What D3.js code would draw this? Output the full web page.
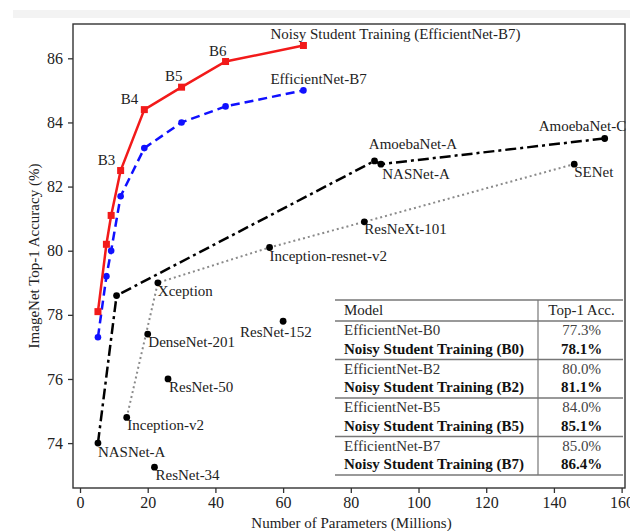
<!DOCTYPE html>
<html>
<head>
<meta charset="utf-8">
<script src="https://cdn.jsdelivr.net/npm/d3@7"></script>
<style>
  html, body { margin: 0; padding: 0; background: #fff; }
  svg { display: block; }
  text { font-family: "Liberation Serif", "Times New Roman", serif; }
</style>
</head>
<body>
<svg id="chart" width="630" height="531"></svg>
<script>
// EfficientNet family (B0..B7): parameters in millions and ImageNet top-1 accuracy
const effNames = ["B0", "B1", "B2", "B3", "B4", "B5", "B6", "B7"];
const effParams = [5.3, 7.8, 9.2, 12, 19, 30, 43, 66];
const noisyAcc = [78.1, 80.2, 81.1, 82.5, 84.4, 85.1, 85.9, 86.4];
const effAcc = [77.3, 79.2, 80.0, 81.7, 83.2, 84.0, 84.5, 85.0];

// NAS-based models (dash-dot frontier)
const nasNames = ["NASNet-A", "", "AmoebaNet-A", "NASNet-A", "AmoebaNet-C"];
const nasParams = [5.3, 10.8, 87, 88.9, 155];
const nasAcc = [74.0, 78.6, 82.8, 82.7, 83.5];

// Hand-designed models (dotted frontier)
const handNames = ["Inception-v2", "Xception", "Inception-resnet-v2", "ResNeXt-101", "SENet"];
const handParams = [13.8, 23, 56, 84, 146];
const handAcc = [74.8, 79.0, 80.1, 80.9, 82.7];

// Standalone models
const soloNames = ["DenseNet-201", "ResNet-50", "ResNet-152", "ResNet-34"];
const soloParams = [20, 26, 60, 22];
const soloAcc = [77.4, 76.0, 77.8, 73.25];

// Axis ticks
const xTicks = [0, 20, 40, 60, 80, 100, 120, 140, 160];
const yTicks = [74, 76, 78, 80, 82, 84, 86];

// Inset table: which EfficientNet sizes are compared
const tableSizes = ["B0", "B2", "B5", "B7"];

// Label placement (pixel offsets from each point)
const labelOffsets = {
  "Noisy Student Training (EfficientNet-B7)": [-33, -6],
  "EfficientNet-B7": [-33, -6],
  "B3": [-23, -6], "B4": [-23.5, -6], "B5": [-16.5, -6], "B6": [-16.5, -6],
  "NASNet-A small": [0, 13.4],
  "AmoebaNet-A": [-5.7, -12],
  "NASNet-A large": [1.3, 14.4],
  "AmoebaNet-C": [-66, -7],
  "Inception-v2": [0.6, 12.5],
  "Xception": [0, 13.3],
  "Inception-resnet-v2": [0, 13.4],
  "ResNeXt-101": [0, 12.6],
  "SENet": [0, 13],
  "DenseNet-201": [0.6, 12.7],
  "ResNet-50": [1, 13.3],
  "ResNet-152": [-43, 15.6],
  "ResNet-34": [1, 12.7]
};

const W = 630, H = 531;
const plot = { left: 73, top: 24, right: 625, bottom: 488 };

const svg = d3.select("#chart");

// light band along the top of the page
svg.append("rect").attr("x", 13).attr("y", 10).attr("width", W - 13).attr("height", 8)
  .attr("fill", "#f3f3f3");

const x = d3.scaleLinear().domain([-2.07, 161]).range([plot.left, plot.right]);
const y = d3.scaleLinear().domain([72.6, 87.07]).range([plot.bottom, plot.top]);

const textColor = "#222";

// Axes
const xAxis = svg.append("g")
  .attr("transform", `translate(0,${plot.bottom})`)
  .call(d3.axisBottom(x).tickValues(xTicks).tickSize(5).tickPadding(4).tickFormat(d3.format("d")));
const yAxis = svg.append("g")
  .attr("transform", `translate(${plot.left},0)`)
  .call(d3.axisLeft(y).tickValues(yTicks).tickSize(5).tickPadding(5).tickFormat(d3.format("d")));
[xAxis, yAxis].forEach(g => {
  g.select(".domain").remove();
  g.selectAll(".tick line").attr("stroke", "#333").attr("stroke-width", 1.3);
  g.selectAll(".tick text").attr("fill", textColor).style("font-size", "16px")
    .style("font-family", "'Liberation Serif', serif");
});

// Frame
svg.append("rect")
  .attr("x", plot.left).attr("y", plot.top)
  .attr("width", plot.right - plot.left).attr("height", plot.bottom - plot.top)
  .attr("fill", "none").attr("stroke", "#333").attr("stroke-width", 1.4);

// Axis titles
svg.append("text")
  .attr("x", 351.5).attr("y", 528).attr("text-anchor", "middle")
  .attr("fill", textColor).style("font-size", "15px")
  .text("Number of Parameters (Millions)");
svg.append("text")
  .attr("transform", `translate(39,${(plot.top + plot.bottom) / 2}) rotate(-90)`)
  .attr("text-anchor", "middle")
  .attr("fill", textColor).style("font-size", "15px")
  .text("ImageNet Top-1 Accuracy (%)");

const line = d3.line().x(d => x(d[0])).y(d => y(d[1]));
const zipPts = (xs, ys) => xs.map((v, i) => [v, ys[i]]);

const handPts = zipPts(handParams, handAcc);
const nasPts = zipPts(nasParams, nasAcc);
const effPts = zipPts(effParams, effAcc);
const noisyPts = zipPts(effParams, noisyAcc);

// Dotted frontier of hand-designed networks
svg.append("path").datum(handPts).attr("d", line)
  .attr("fill", "none").attr("stroke", "#8a8a8a").attr("stroke-width", 2)
  .attr("stroke-dasharray", "2,3");

// Dash-dot frontier of NAS networks
svg.append("path").datum(nasPts).attr("d", line)
  .attr("fill", "none").attr("stroke", "#000").attr("stroke-width", 2.5)
  .attr("stroke-dasharray", "11,4,3,4");

// EfficientNet (dashed blue)
svg.append("path").datum(effPts).attr("d", line)
  .attr("fill", "none").attr("stroke", "#1010ff").attr("stroke-width", 2.5)
  .attr("stroke-dasharray", "9,5");
svg.selectAll(".effpt").data(effPts).enter().append("circle")
  .attr("cx", d => x(d[0])).attr("cy", d => y(d[1])).attr("r", 3.3)
  .attr("fill", "#1010ff");

// Noisy Student Training (solid red)
svg.append("path").datum(noisyPts).attr("d", line)
  .attr("fill", "none").attr("stroke", "#f21a1a").attr("stroke-width", 2.5);
svg.selectAll(".noisypt").data(noisyPts).enter().append("rect")
  .attr("x", d => x(d[0]) - 3.5).attr("y", d => y(d[1]) - 3.5)
  .attr("width", 7).attr("height", 7).attr("fill", "#f21a1a");

// Black model markers
const blackPts = nasPts.concat(handPts, zipPts(soloParams, soloAcc));
svg.selectAll(".modelpt").data(blackPts).enter().append("circle")
  .attr("cx", d => x(d[0])).attr("cy", d => y(d[1])).attr("r", 3.4)
  .attr("fill", "#000");

// Labels
function label(text, px, py, key) {
  const off = labelOffsets[key || text] || [0, 13];
  svg.append("text")
    .attr("x", x(px) + off[0]).attr("y", y(py) + off[1])
    .attr("fill", textColor).style("font-size", "15px")
    .text(text);
}
const last = effParams.length - 1;
label("Noisy Student Training (EfficientNet-B7)", effParams[last], noisyAcc[last]);
label("EfficientNet-B7", effParams[last], effAcc[last]);
["B3", "B4", "B5", "B6"].forEach(n => {
  const i = effNames.indexOf(n);
  label(n, effParams[i], noisyAcc[i]);
});
nasNames.forEach((n, i) => {
  if (!n) return;
  let key = n;
  if (n === "NASNet-A") key = i === 0 ? "NASNet-A small" : "NASNet-A large";
  label(n, nasParams[i], nasAcc[i], key);
});
handNames.forEach((n, i) => label(n, handParams[i], handAcc[i]));
soloNames.forEach((n, i) => label(n, soloParams[i], soloAcc[i]));

// Inset comparison table
const tbl = { left: 335, right: 623, div: 538, top: 300, head: 321, group: 38.5 };
const fmt = d => d3.format(".1f")(d) + "%";
const rows = [];
tableSizes.forEach(s => {
  const i = effNames.indexOf(s);
  rows.push({ model: "EfficientNet-" + s, acc: effAcc[i], bold: false });
  rows.push({ model: "Noisy Student Training (" + s + ")", acc: noisyAcc[i], bold: true });
});
const tableBottom = tbl.head + tbl.group * tableSizes.length;
svg.append("rect").attr("x", tbl.left - 2).attr("y", tbl.top - 3)
  .attr("width", tbl.right - tbl.left + 2).attr("height", tableBottom - tbl.top + 6)
  .attr("fill", "#fff");

const rule = (yy, w) => svg.append("line")
  .attr("x1", tbl.left).attr("x2", tbl.right).attr("y1", yy).attr("y2", yy)
  .attr("stroke", "#777").attr("stroke-width", w);
rule(tbl.top, 1.6);
rule(tbl.head, 1.3);
for (let g = 1; g < tableSizes.length; g++) rule(tbl.head + g * tbl.group, 1.3);
rule(tableBottom, 1.6);
svg.append("line").attr("x1", tbl.div).attr("x2", tbl.div)
  .attr("y1", tbl.top).attr("y2", tableBottom)
  .attr("stroke", "#777").attr("stroke-width", 1.2);

const accX = (tbl.div + tbl.right) / 2 + 1;
svg.append("text").attr("x", tbl.left + 9).attr("y", 315)
  .attr("fill", "#222").style("font-size", "15px").text("Model");
svg.append("text").attr("x", accX).attr("y", 315).attr("text-anchor", "middle")
  .attr("fill", "#222").style("font-size", "15px").text("Top-1 Acc.");

rows.forEach((r, k) => {
  const g = Math.floor(k / 2);
  const yy = tbl.head + g * tbl.group + (k % 2 === 0 ? 14 : 32.5);
  svg.append("text").attr("x", tbl.left + 9).attr("y", yy)
    .attr("fill", r.bold ? "#111" : "#333")
    .style("font-size", "15px").style("font-weight", r.bold ? "bold" : "normal")
    .text(r.model);
  svg.append("text").attr("x", accX).attr("y", yy).attr("text-anchor", "middle")
    .attr("fill", r.bold ? "#111" : "#444")
    .style("font-size", "15px").style("font-weight", r.bold ? "bold" : "normal")
    .text(fmt(r.acc));
});
</script>
</body>
</html>
